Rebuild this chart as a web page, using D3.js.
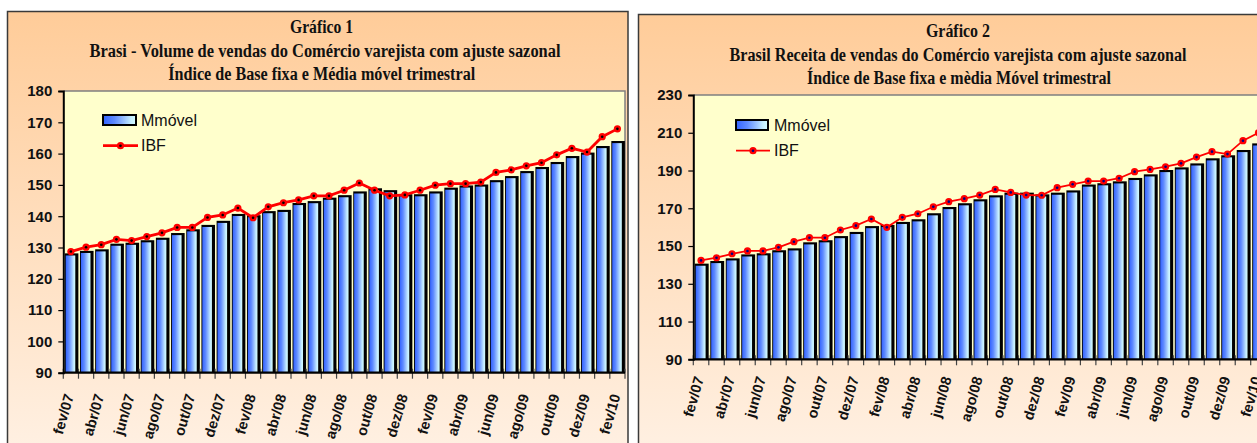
<!DOCTYPE html>
<html><head><meta charset="utf-8">
<script src="https://cdn.jsdelivr.net/npm/d3@7"></script>
<style>
html,body{margin:0;padding:0;background:#fff;}
svg{display:block;}
</style></head>
<body>
<script>
// ---------- DATA ----------
const months = ["fev/07","mar/07","abr/07","mai/07","jun/07","jul/07","ago/07","set/07","out/07","nov/07","dez/07","jan/08",
  "fev/08","mar/08","abr/08","mai/08","jun/08","jul/08","ago/08","set/08","out/08","nov/08","dez/08","jan/09",
  "fev/09","mar/09","abr/09","mai/09","jun/09","jul/09","ago/09","set/09","out/09","nov/09","dez/09","jan/10","fev/10"];
const tickLabels = ["fev/07","abr/07","jun/07","ago/07","out/07","dez/07","fev/08","abr/08","jun/08","ago/08",
  "out/08","dez/08","fev/09","abr/09","jun/09","ago/09","out/09","dez/09","fev/10"];

const volumeMM = [127.9,128.7,129.2,131.0,131.3,132.1,132.9,134.4,135.6,137.0,138.3,140.5,140.1,141.4,141.8,144.0,144.6,
  145.7,146.5,147.7,148.7,148.1,146.8,146.8,147.7,148.9,149.6,149.9,151.3,152.6,154.2,155.5,157.1,159.0,160.1,162.2,163.8];
const volumeIBF = [128.7,130.1,130.9,132.6,132.2,133.5,134.7,136.4,136.4,139.6,140.4,142.6,139.5,143.0,144.3,145.2,146.5,
  146.5,148.3,150.6,148.3,146.5,146.8,148.3,149.9,150.4,150.4,150.9,154.0,154.8,156.1,157.1,159.6,161.7,160.5,165.4,167.9];

const receitaMM = [140.3,141.7,143.1,145.2,145.8,147.4,148.4,151.6,152.7,154.9,157.1,160.2,160.8,162.4,163.8,167.0,170.3,
  172.3,174.4,176.5,177.9,177.9,177.0,177.9,179.1,182.2,182.9,183.9,185.7,187.6,189.9,191.3,193.4,196.1,197.7,200.5,204.0];
const receitaIBF = [142.4,143.8,145.9,147.4,147.4,149.3,152.3,154.4,154.4,158.5,160.8,164.3,159.9,165.2,167.1,170.8,173.5,
  175.1,177.0,180.0,178.4,177.0,176.9,180.9,182.7,184.4,184.4,185.9,189.4,190.6,192.0,193.8,197.1,200.0,198.7,205.8,210.0];

const yTicks1 = [90,100,110,120,130,140,150,160,170,180];
const yTicks2 = [90,110,130,150,170,190,210,230];

const titles1 = ["Gráfico 1","Brasi - Volume de vendas do Comércio varejista com ajuste sazonal","Índice de Base fixa e Média móvel trimestral"];
const titles2 = ["Gráfico 2","Brasil Receita de vendas do Comércio varejista com ajuste sazonal","Índice de Base fixa e mèdia Móvel trimestral"];
const legendNames = ["Mmóvel","IBF"];

// ---------- DRAW ----------
const svg = d3.select("body").append("svg").attr("width",1257).attr("height",443);
const defs = svg.append("defs");
const bg = defs.append("linearGradient").attr("id","bgGrad").attr("x1",0).attr("y1",0).attr("x2",0).attr("y2",1);
bg.append("stop").attr("offset","0%").attr("stop-color","#FFCC99");
bg.append("stop").attr("offset","100%").attr("stop-color","#FFF2E6");
const bar = defs.append("linearGradient").attr("id","barGrad").attr("x1",0).attr("y1",0).attr("x2",1).attr("y2",0);
[["0%","#3363FF"],["35%","#5F8BFF"],["65%","#9CC4FF"],["85%","#C4EEFF"],["100%","#D2FBFF"]].forEach(s=>
  bar.append("stop").attr("offset",s[0]).attr("stop-color",s[1]));

function drawChart(cfg){
  const g = svg.append("g");
  // frame
  g.append("rect").attr("x",cfg.frame[0]).attr("y",cfg.frame[1]).attr("width",cfg.frame[2]).attr("height",cfg.frame[3])
    .attr("fill","url(#bgGrad)").attr("stroke","#3a3a3a").attr("stroke-width",1.5);
  // titles
  cfg.titles.forEach((t,i)=>{
    g.append("text").attr("x",cfg.titleX[i]).attr("y",cfg.titleY[i]).attr("text-anchor","middle")
      .attr("font-family","'Liberation Serif','Times New Roman',serif").attr("font-weight","bold").attr("font-size",18.5)
      .attr("textLength",cfg.titleW[i]).attr("lengthAdjust","spacingAndGlyphs").attr("fill","#111").text(t);
  });
  const [L,R,T,B] = cfg.plot;
  const x = d3.scaleBand().domain(months).range([L,R]);
  const y = d3.scaleLinear().domain(cfg.yDomain).range([B,T]);
  // plot bg
  g.append("rect").attr("x",L).attr("y",T).attr("width",R-L).attr("height",B-T).attr("fill","#FFFFCC");
  g.append("path").attr("d",`M${L},${T}H${R}V${B}`).attr("fill","none").attr("stroke","#808080").attr("stroke-width",1.5);
  const bw = x.bandwidth();
  // bars
  const bars = g.append("g");
  cfg.bars.forEach((v,i)=>{
    const x0 = x(months[i]);
    bars.append("rect").attr("x",x0+1.5).attr("y",y(v)-0.7).attr("width",bw-1.6).attr("height",B-y(v)+0.7).attr("fill","#000");
    bars.append("rect").attr("x",x0+2.4).attr("y",y(v)+1.4).attr("width",bw-5.6).attr("height",Math.max(0,B-y(v)-1.4)).attr("fill","url(#barGrad)");
  });
  // x ticks at boundaries
  const bounds = months.map(m=>x(m)).concat([R]);
  g.append("g").selectAll("line").data(bounds).join("line")
    .attr("x1",d=>d).attr("x2",d=>d).attr("y1",B-4).attr("y2",B+6).attr("stroke","#444").attr("stroke-width",1.2);
  // axes lines
  g.append("line").attr("x1",L).attr("x2",R).attr("y1",B).attr("y2",B).attr("stroke","#000").attr("stroke-width",2.2);
  const ya = g.append("g").attr("transform",`translate(${L},0)`)
    .call(d3.axisLeft(y).tickValues(cfg.yTicks).tickSize(5).tickPadding(6).tickFormat(d3.format("d")));
  ya.select(".domain").attr("stroke","#000").attr("stroke-width",2);
  ya.selectAll(".tick line").attr("stroke","#000").attr("stroke-width",1.2);
  ya.selectAll("text").attr("font-family","'Liberation Sans',Arial,sans-serif").attr("font-weight","bold")
    .attr("font-size",15).attr("fill","#111");
  // x labels
  const xa = g.append("g").attr("transform",`translate(0,${B})`)
    .call(d3.axisBottom(x).tickValues(tickLabels).tickSize(0).tickPadding(0));
  xa.select(".domain").remove();
  xa.selectAll("text").attr("font-family","'Liberation Sans',Arial,sans-serif").attr("font-size",14.5).attr("font-weight","bold")
    .attr("fill","#111").attr("text-anchor","end").attr("dy",0).attr("y",0)
    .attr("transform",`translate(3,${cfg.labelOff}) rotate(-74)`);
  // IBF line
  const line = d3.line().x((d,i)=>x(months[i])+bw/2).y(d=>y(d));
  g.append("path").attr("d",line(cfg.ibf)).attr("fill","none").attr("stroke","#FF0000").attr("stroke-width",cfg.lw);
  const dots = g.append("g");
  cfg.ibf.forEach((v,i)=>{
    dots.append("circle").attr("cx",x(months[i])+bw/2).attr("cy",y(v)).attr("r",3.6).attr("fill","#FF0000");
    dots.append("circle").attr("cx",x(months[i])+bw/2).attr("cy",y(v)).attr("r",1.3).attr("fill",cfg.dotC);
  });
  // legend
  const lg = cfg.legend;
  g.append("rect").attr("x",lg.x).attr("y",lg.y).attr("width",lg.w).attr("height",10).attr("fill","url(#barGrad)")
    .attr("stroke","#000").attr("stroke-width",2);
  g.append("text").attr("x",lg.tx).attr("y",lg.y+10.5).attr("font-family","'Liberation Sans',Arial,sans-serif")
    .attr("font-size",16).attr("fill","#111").text(legendNames[0]);
  g.append("line").attr("x1",lg.x).attr("x2",lg.x+lg.w+2).attr("y1",lg.ly).attr("y2",lg.ly).attr("stroke","#FF0000").attr("stroke-width",cfg.lw);
  g.append("circle").attr("cx",lg.x+lg.w/2+1).attr("cy",lg.ly).attr("r",3.6).attr("fill","#FF0000");
  g.append("circle").attr("cx",lg.x+lg.w/2+1).attr("cy",lg.ly).attr("r",1.3).attr("fill",cfg.dotC);
  g.append("text").attr("x",lg.tx).attr("y",lg.ly+5.5).attr("font-family","'Liberation Sans',Arial,sans-serif")
    .attr("font-size",16).attr("fill","#111").text(legendNames[1]);
}

drawChart({
  frame:[7.5,11.5,620.5,460], titles:titles1, titleX:[321.5,325,321.7], titleY:[33.3,56.7,80], titleW:[63,471,307],
  plot:[63.3,625,91,372.7], yDomain:[90,180], yTicks:yTicks1, bars:volumeMM, ibf:volumeIBF, lw:2.8, dotC:"#000",
  labelOff:23, legend:{x:103,y:115,w:33,tx:141,ly:145.7}
});
drawChart({
  frame:[638.5,14.5,660,460], titles:titles2, titleX:[958,958,959], titleY:[37,60.5,84], titleW:[64,457,304],
  plot:[693.3,1266.2,95,359.3], yDomain:[90,230], yTicks:yTicks2, bars:receitaMM, ibf:receitaIBF, lw:1.8, dotC:"#000080",
  labelOff:19, legend:{x:736,y:120,w:32,tx:774,ly:150.7}
});
</script>
</body></html>
